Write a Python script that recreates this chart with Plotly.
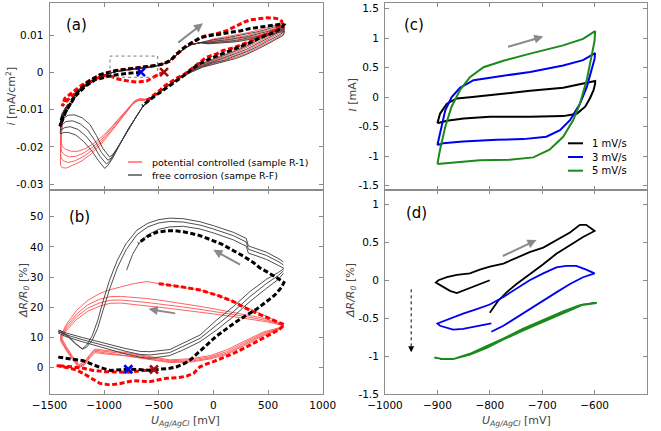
import plotly.graph_objects as go

# ================= DATA =================
# ---- panel (a): current density, values in 1e-3 mA/cm^2, potential in mV ----
A_ANOD_X = [-1300, -1250, -1200, -1100, -1000, -900, -800, -700, -600, -500, -440, -380, -320, -260, -200, -120]
A_ANOD_Y = [-7.2, -5.3, -4.0, -2.0, -0.7, 0.2, 0.7, 1.0, 1.4, 1.9, 2.5, 3.6, 5.2, 6.6, 7.5, 8.0]
A_UP_X = [-50, 0, 100, 200, 300, 400, 500, 600, 650]
A_LO_X = [640, 600, 500, 400, 300, 200, 100, 0, -100, -200, -300, -400, -500, -581]

A_RED_UP = [
    [8.5, 9.0, 9.5, 10.0, 10.6, 11.3, 12.1, 13.0, 13.0],
    [8.2, 8.6, 9.0, 9.4, 9.9, 10.6, 11.4, 12.3, 12.5],
    [8.0, 8.3, 8.5, 8.9, 9.4, 10.0, 10.8, 11.7, 11.9],
    [7.8, 7.9, 8.1, 8.4, 8.9, 9.5, 10.2, 11.1, 11.3],
]
A_BLK_UP = [
    [8.4, 8.8, 9.2, 9.7, 10.2, 10.9, 11.7, 12.6, 12.8],
    [8.1, 8.4, 8.7, 9.1, 9.6, 10.3, 11.1, 12.0, 12.2],
    [7.9, 8.1, 8.3, 8.6, 9.1, 9.7, 10.5, 11.4, 11.6],
    [7.7, 7.8, 7.9, 8.2, 8.7, 9.2, 9.9, 10.8, 11.0],
]
A_RED_LO = [
    [12.6, 12.0, 10.4, 8.9, 7.4, 6.0, 4.8, 3.7, 2.5, 0.9, -1.0, -3.1, -5.3, -6.8],
    [11.9, 11.2, 9.6, 8.1, 6.6, 5.3, 4.2, 3.2, 2.1, 0.6, -1.2, -3.2, -5.4, -6.9],
    [11.1, 10.4, 8.8, 7.3, 5.8, 4.6, 3.6, 2.8, 1.8, 0.4, -1.3, -3.2, -5.5, -7.0],
    [10.4, 9.6, 8.0, 6.5, 5.1, 4.0, 3.1, 2.4, 1.5, 0.2, -1.4, -3.3, -5.6, -7.1],
]
A_BLK_LO = [
    [12.3, 11.6, 10.0, 8.5, 7.0, 5.7, 4.5, 3.5, 2.3, 0.8, -1.1, -3.1, -5.4, -7.2],
    [11.5, 10.8, 9.2, 7.7, 6.2, 5.0, 3.9, 3.0, 1.9, 0.5, -1.2, -3.2, -5.5, -7.3],
    [10.8, 10.0, 8.4, 6.9, 5.5, 4.3, 3.3, 2.6, 1.6, 0.3, -1.3, -3.3, -5.5, -7.3],
    [10.0, 9.3, 7.7, 6.2, 4.8, 3.7, 2.9, 2.2, 1.4, 0.1, -1.4, -3.3, -5.6, -7.4],
]
A_RED_CATH_X = [
    [-626, -672, -720, -780, -850, -930, -1010, -1100, -1175, -1240, -1300, -1350, -1385, -1396, -1393, -1375, -1345],
    [-630, -678, -726, -786, -856, -936, -1016, -1106, -1185, -1255, -1315, -1362, -1390, -1397, -1394, -1377, -1347],
    [-634, -684, -732, -792, -862, -942, -1022, -1112, -1195, -1270, -1330, -1372, -1394, -1398, -1395, -1379, -1349],
    [-638, -690, -738, -798, -868, -948, -1028, -1118, -1205, -1285, -1345, -1382, -1398, -1400, -1397, -1381, -1351],
]
A_RED_CATH_Y = [
    [-7.2, -7.0, -7.6, -9.6, -12.0, -14.6, -17.0, -19.2, -20.5, -21.2, -21.2, -20.7, -19.8, -18.5, -15.5, -12.0, -9.2],
    [-7.3, -7.2, -7.9, -10.0, -12.5, -15.2, -17.8, -20.1, -21.6, -22.5, -22.7, -22.2, -21.3, -20.0, -16.5, -12.5, -9.4],
    [-7.4, -7.4, -8.2, -10.4, -13.0, -15.8, -18.5, -21.0, -22.7, -23.8, -24.2, -23.8, -23.0, -21.8, -17.5, -13.0, -9.6],
    [-7.5, -7.6, -8.5, -10.8, -13.5, -16.4, -19.3, -21.9, -23.8, -25.0, -25.7, -25.6, -25.0, -23.8, -18.5, -13.5, -9.8],
]
A_BLK_CATH_X = [
    [-640, -700, -760, -820, -880, -920, -950, -1010, -1070, -1130, -1200, -1270, -1330, -1380, -1400, -1390, -1360, -1330],
    [-645, -705, -770, -835, -895, -935, -965, -1025, -1085, -1150, -1220, -1290, -1350, -1400, -1392, -1360, -1330],
    [-648, -710, -780, -850, -910, -950, -980, -1040, -1100, -1170, -1240, -1310, -1360, -1400, -1394, -1365, -1330],
    [-652, -715, -790, -865, -925, -965, -995, -1055, -1115, -1190, -1260, -1330, -1375, -1402, -1396, -1368, -1330],
]
A_BLK_CATH_Y = [
    [-9.0, -11.6, -14.6, -17.6, -20.4, -22.0, -22.7, -20.5, -17.0, -14.0, -12.2, -11.4, -11.5, -12.5, -13.5, -11.2, -9.6, -8.4],
    [-9.1, -11.8, -14.8, -18.2, -21.3, -23.0, -23.6, -21.5, -18.3, -15.5, -13.8, -13.0, -13.2, -14.5, -12.0, -9.8, -8.5],
    [-9.2, -12.0, -15.3, -19.0, -22.2, -23.9, -24.6, -22.5, -19.5, -17.0, -15.3, -14.6, -14.8, -15.6, -12.8, -10.1, -8.6],
    [-9.4, -12.3, -15.8, -19.8, -23.2, -25.0, -25.8, -23.6, -21.0, -18.5, -16.8, -16.1, -16.2, -16.5, -13.5, -10.4, -8.7],
]
A_BLK_DASH_X = [-663, -779, -931, -1084, -1175, -1267, -1350, -1404, -1390, -1343, -1251, -1160, -1038, -885, -733, -600, -519, -450, -390, -336, -280, -245, -180, -123, -50, 30, 100, 182, 250, 335, 420, 487, 560, 624, 645, 620, 560, 487, 426, 334, 273, 182, 121, 30, -31, -123, -184, -245, -300, -367, -430, -489, -540, -580, -620, -650]
A_BLK_DASH_Y = [0.0, -0.2, -0.8, -2.0, -3.8, -6.5, -10.5, -14.5, -12.5, -10.2, -5.5, -2.8, -0.6, 0.5, 1.0, 1.5, 1.9, 2.4, 3.3, 5.0, 6.4, 7.2, 8.3, 9.3, 9.8, 10.2, 10.4, 10.8, 11.2, 11.8, 12.2, 12.4, 12.7, 13.0, 12.8, 11.8, 10.8, 10.0, 9.3, 8.0, 7.2, 6.2, 5.5, 4.5, 3.7, 2.4, 1.2, -0.3, -1.5, -2.9, -4.3, -5.4, -6.4, -7.2, -8.2, -9.0]
A_RED_DASH_X = [-452, -519, -611, -700, -764, -885, -946, -1010, -1084, -1175, -1267, -1330, -1385, -1360, -1300, -1200, -1100, -1000, -900, -800, -700, -600, -519, -460, -400, -340, -280, -213, -150, -93, -30, 30, 120, 213, 280, 334, 410, 487, 560, 593, 625, 630, 600, 540, 487, 426, 334, 250, 182, 90, 30, -62, -120, -184, -230, -276, -340, -398, -440, -489, -540, -581, -620]
A_RED_DASH_Y = [0.1, -0.8, -2.3, -2.6, -2.4, -1.7, -0.9, -0.9, -1.8, -3.5, -5.7, -7.3, -9.0, -7.0, -5.6, -3.3, -1.6, -0.3, 0.5, 0.9, 1.2, 1.5, 1.9, 2.3, 3.0, 4.6, 6.4, 7.7, 8.8, 9.7, 10.1, 10.4, 11.2, 12.6, 13.5, 14.1, 14.5, 14.7, 14.6, 14.4, 13.8, 13.0, 12.3, 11.0, 10.3, 9.6, 8.3, 7.3, 6.6, 5.9, 5.0, 4.1, 2.8, 1.4, 0.3, -0.7, -1.6, -2.6, -3.5, -4.8, -6.0, -7.0, -7.8]
A_MARK_BLUE = [-663, 0.1]
A_MARK_RED = [-452, 0.1]
A_BOX = [-946, -510, -1.3, 4.4]
A_ARROW = [-336, 7.7, -96, 13.2]
A_LEGEND = ["potential controlled (sample R-1)", "free corrosion (sampe R-F)"]

# ---- panel (b): resistance change in % ----
B_RUP_X = [-1400, -1343, -1251, -1150, -1038, -946, -850, -733, -611, -500, -400, -300, -123, 0, 182, 300, 426, 487, 550, 609, 640]
B_RUP = [
    [10.5, 14.5, 19.0, 22.3, 24.6, 25.8, 26.7, 27.8, 28.5, 27.9, 27.3, 26.8, 25.7, 24.4, 21.9, 20.0, 17.9, 16.9, 15.9, 14.6, 14.0],
    [10.0, 13.8, 17.8, 20.8, 22.7, 23.5, 23.6, 23.3, 22.9, 22.4, 21.9, 21.3, 20.3, 19.5, 18.3, 17.5, 16.6, 16.0, 15.3, 14.5, 14.1],
    [9.5, 13.1, 16.9, 19.7, 21.5, 22.3, 22.4, 22.1, 21.6, 21.1, 20.7, 20.2, 19.3, 18.7, 17.6, 16.9, 16.1, 15.6, 15.0, 14.3, 14.0],
    [9.0, 12.4, 16.0, 18.7, 20.4, 21.3, 21.4, 21.0, 20.4, 20.0, 19.6, 19.2, 18.4, 17.8, 16.9, 16.3, 15.6, 15.2, 14.7, 14.1, 13.9],
]
B_RLO_X = [600, 456, 273, 121, -31, -200, -400, -600, -800, -1000, -1084, -1130, -1180, -1230, -1290, -1350, -1400]
B_RLO = [
    [13.2, 11.8, 8.6, 5.9, 4.0, 3.0, 2.6, 3.8, 5.0, 5.8, 6.2, 4.4, 2.0, 1.0, 3.8, 7.2, 10.5],
    [13.0, 11.4, 8.1, 5.3, 3.6, 2.6, 2.3, 3.4, 4.6, 5.4, 5.8, 4.0, 1.6, 0.6, 3.4, 6.7, 10.0],
    [12.8, 11.0, 7.6, 4.8, 3.2, 2.2, 2.0, 3.0, 4.2, 5.0, 5.4, 3.6, 1.2, 0.3, 3.0, 6.3, 9.5],
    [12.6, 10.6, 7.2, 4.4, 2.9, 1.9, 1.7, 2.7, 3.9, 4.6, 5.0, 3.3, 0.9, 0.0, 2.7, 5.9, 9.0],
]
B_KTOP_X = [640, 600, 487, 380, 320, 300, 182, 0, -123, -276, -400, -500, -600, -700, -800, -880, -950, -1010, -1060, -1110, -1160, -1200, -1260, -1330, -1400, -1420]
B_KTOP = [
    [35.0, 36.0, 38.2, 39.6, 40.3, 42.8, 44.8, 47.0, 48.3, 49.3, 49.5, 49.0, 47.8, 45.5, 41.0, 35.5, 29.0, 22.0, 15.5, 10.5, 7.5, 6.3, 7.8, 10.2, 11.8, 11.5],
    [34.0, 35.0, 37.1, 38.5, 39.2, 41.6, 43.7, 45.9, 47.2, 48.2, 48.4, 47.9, 46.6, 44.0, 39.0, 33.0, 26.0, 19.0, 13.0, 9.0, 6.8, 6.1, 8.0, 10.6, 12.2, 12.0],
]
B_KLO_X = [-1420, -1350, -1200, -1000, -800, -672, -581, -400, -276, -123, 30, 182, 334, 487, 593, 640]
B_KLO = [
    [11.5, 10.3, 8.6, 6.5, 4.5, 3.5, 3.1, 4.0, 5.9, 8.6, 12.5, 16.9, 21.9, 26.3, 29.2, 31.2],
    [12.0, 10.9, 9.3, 7.3, 5.4, 4.4, 4.2, 5.0, 7.0, 9.7, 14.1, 18.5, 23.5, 27.9, 30.5, 32.0],
    [12.5, 11.5, 10.0, 8.1, 6.3, 5.4, 5.3, 6.0, 8.1, 10.8, 15.8, 20.2, 25.2, 29.3, 31.5, 32.6],
]
B_KLAST_X = [640, 600, 487, 380, 320, 300, 182, 0, -123, -276, -400, -500, -600, -680, -740, -794]
B_KLAST_Y = [33.0, 33.8, 35.8, 37.2, 37.9, 40.2, 42.3, 44.6, 45.9, 46.8, 46.6, 45.8, 44.0, 41.2, 37.5, 32.3]
B_BLK_DASH_X = [-1420, -1300, -1190, -1100, -1038, -946, -850, -779, -680, -580, -489, -400, -336, -260, -214, -150, -62, 30, 121, 200, 304, 400, 487, 560, 624, 645, 600, 550, 487, 426, 365, 280, 182, 80, -1, -123, -200, -276, -350, -428, -519, -600, -688]
B_BLK_DASH_Y = [3.5, 2.8, 2.3, 1.0, 0.1, -0.9, -0.7, -0.5, -0.6, -0.9, -0.5, -0.2, 0.3, 1.5, 2.5, 4.5, 7.5, 10.5, 13.0, 15.0, 17.4, 19.5, 21.9, 24.0, 26.6, 28.2, 29.3, 30.5, 31.8, 33.0, 34.8, 36.8, 38.8, 40.8, 42.0, 43.7, 44.4, 45.0, 45.3, 45.3, 44.8, 43.5, 41.2]
B_RED_DASH_X = [-544, -650, -780, -900, -1000, -1100, -1190, -1300, -1434, -1330, -1250, -1190, -1100, -1038, -946, -850, -733, -650, -580, -500, -428, -330, -245, -180, -123, -60, -1, 100, 182, 300, 426, 530, 600, 650, 609, 520, 426, 300, 182, 50, -123, -300, -519]
B_RED_DASH_Y = [-0.6, -1.0, -1.5, -1.4, -1.3, -0.9, -0.2, 0.3, 0.7, 0.0, -0.8, -1.9, -3.8, -5.2, -5.7, -5.2, -4.3, -4.4, -4.6, -4.0, -3.5, -3.3, -2.8, -1.8, 0.3, 1.3, 2.0, 3.5, 4.7, 6.8, 9.2, 11.3, 12.6, 14.2, 14.8, 16.2, 17.6, 19.6, 21.9, 23.8, 25.7, 26.8, 27.9]
B_MARK_BLUE = [-779, -0.5]
B_MARK_RED = [-544, -0.6]
B_ARROW1 = [258, 33.8, -1, 39.0]
B_ARROW2 = [-336, 17.9, -592, 19.4]

# ---- panel (c): current in mA ----
C1_X = [-900, -895, -882, -863, -838, -787, -723, -660, -628, -609, -599, -599, -602, -609, -618, -634, -660, -723, -800, -850, -882, -900]
C1_Y = [-0.44, -0.28, -0.11, -0.02, 0.0, 0.05, 0.11, 0.16, 0.22, 0.26, 0.275, 0.23, 0.12, -0.02, -0.16, -0.28, -0.32, -0.33, -0.33, -0.36, -0.40, -0.44]
C3_X = [-900, -895, -885, -873, -857, -831, -787, -723, -660, -622, -599, -600, -606, -615, -628, -647, -666, -692, -736, -787, -851, -889, -900]
C3_Y = [-0.81, -0.61, -0.22, 0.0, 0.16, 0.29, 0.35, 0.43, 0.54, 0.63, 0.75, 0.65, 0.46, 0.17, -0.11, -0.39, -0.56, -0.67, -0.71, -0.72, -0.75, -0.78, -0.81]
C5_X = [-900, -895, -885, -873, -857, -838, -812, -774, -723, -660, -622, -599, -600, -606, -615, -628, -641, -660, -686, -717, -762, -819, -863, -900]
C5_Y = [-1.13, -0.89, -0.50, -0.16, 0.12, 0.34, 0.51, 0.62, 0.74, 0.88, 0.99, 1.12, 0.96, 0.68, 0.29, -0.11, -0.39, -0.67, -0.89, -1.02, -1.06, -1.07, -1.10, -1.13]
C_NAMES = ["1 mV/s", "3 mV/s", "5 mV/s"]
C_ARROW = [-768, 0.85, -698, 1.03]

# ---- panel (d): resistance change in % ----
D1_X = [-800, -825, -851, -863, -876, -895, -903, -898, -882, -863, -838, -819, -800, -774, -749, -724, -698, -673, -647, -628, -616, -600, -622, -647, -673, -698, -724, -749, -768, -784, -800]
D1_Y = [0.0, -0.07, -0.14, -0.17, -0.14, -0.07, -0.03, 0.0, 0.04, 0.07, 0.09, 0.14, 0.18, 0.22, 0.30, 0.37, 0.43, 0.53, 0.63, 0.73, 0.73, 0.65, 0.57, 0.46, 0.35, 0.21, 0.08, -0.05, -0.16, -0.27, -0.43]
D3_X = [-797, -819, -851, -870, -895, -900, -882, -851, -825, -800, -774, -749, -724, -698, -673, -654, -635, -616, -600, -622, -647, -673, -698, -724, -749, -774, -797]
D3_Y = [-0.57, -0.60, -0.64, -0.65, -0.60, -0.57, -0.52, -0.44, -0.38, -0.32, -0.22, -0.11, 0.0, 0.09, 0.17, 0.19, 0.19, 0.14, 0.09, 0.04, -0.05, -0.16, -0.27, -0.38, -0.49, -0.60, -0.68]
D5_X = [-906, -889, -870, -838, -806, -774, -736, -698, -660, -628, -603, -596, -622, -660, -698, -736, -774, -806, -838, -870, -895]
D5_Y = [-1.02, -1.04, -1.04, -0.97, -0.87, -0.77, -0.64, -0.52, -0.41, -0.33, -0.30, -0.30, -0.32, -0.43, -0.54, -0.66, -0.78, -0.89, -0.98, -1.04, -1.04]
D_ARROW = [-778, 0.31, -711, 0.53]
D_DOWN = [-950, -0.12, -0.95]

# ================= STYLE / LAYOUT =================
W, H = 661, 431
RED_THIN = "#ff5050"
BLK_THIN = "#3a3a3a"
RED = "#ff0000"
BLUE = "#0000f0"
GREEN = "#1a8a1a"
FRAME = "#8c8c8c"
FONT = "DejaVu Sans"

fig = go.Figure()


def add(x, y, xa, ya, color, width, dash=None, scale=1.0):
    fig.add_trace(go.Scatter(
        x=x, y=[v * scale for v in y], xaxis=xa, yaxis=ya, mode="lines",
        line=dict(color=color, width=width, dash=dash),
        showlegend=False, hoverinfo="skip"))


def mark(p, xa, ya, color, scale=1.0):
    fig.add_trace(go.Scatter(
        x=[p[0]], y=[p[1] * scale], xaxis=xa, yaxis=ya, mode="markers", showlegend=False,
        marker=dict(symbol="x-thin", size=8, line=dict(width=2.6, color=color)), hoverinfo="skip"))


S = 1e-3
DASH = "5px,2.5px"
# panel (a)
for k in range(4):
    add(A_ANOD_X + A_UP_X + A_LO_X + A_RED_CATH_X[k],
        A_ANOD_Y + A_RED_UP[k] + A_RED_LO[k] + A_RED_CATH_Y[k], "x", "y", RED_THIN, 0.9, scale=S)
for k in range(4):
    add(A_ANOD_X + A_UP_X + A_LO_X + A_BLK_CATH_X[k],
        A_ANOD_Y + A_BLK_UP[k] + A_BLK_LO[k] + A_BLK_CATH_Y[k], "x", "y", BLK_THIN, 0.9, scale=S)
add(A_RED_DASH_X, A_RED_DASH_Y, "x", "y", RED, 3, DASH, scale=S)
add(A_BLK_DASH_X, A_BLK_DASH_Y, "x", "y", "#000000", 3, DASH, scale=S)
mark(A_MARK_BLUE, "x", "y", BLUE, S)
mark(A_MARK_RED, "x", "y", "#a01010", S)

# panel (b)
for k in range(4):
    add(B_RUP_X + B_RLO_X, B_RUP[k] + B_RLO[k], "x2", "y2", RED_THIN, 0.9)
for k in range(2):
    add(B_KTOP_X + B_KLO_X, B_KTOP[k] + B_KLO[k], "x2", "y2", BLK_THIN, 0.9)
add(B_KLO_X + B_KLAST_X, B_KLO[2] + B_KLAST_Y, "x2", "y2", BLK_THIN, 0.9)
add(B_RED_DASH_X, B_RED_DASH_Y, "x2", "y2", RED, 3, DASH)
add(B_BLK_DASH_X, B_BLK_DASH_Y, "x2", "y2", "#000000", 3, DASH)
mark(B_MARK_BLUE, "x2", "y2", BLUE)
mark(B_MARK_RED, "x2", "y2", "#a01010")

# panel (c)
C_COLORS = ["#000000", BLUE, GREEN]
for xs, ys, col in zip([C1_X, C3_X, C5_X], [C1_Y, C3_Y, C5_Y], C_COLORS):
    add(xs, ys, "x3", "y3", col, 2)

# panel (d)
add(D1_X, D1_Y, "x4", "y4", "#000000", 1.8)
add(D3_X, D3_Y, "x4", "y4", BLUE, 1.8)
add(D5_X, D5_Y, "x4", "y4", GREEN, 2)

XD_L = [49.5 / W, 322.7 / W]
XD_R = [385 / W, 647 / W]
YD_T = [1 - 190 / H, 1 - 2.5 / H]
YD_B = [1 - 394 / H, 1 - 190 / H]

axcommon = dict(showgrid=False, zeroline=False, showline=True, linecolor=FRAME, linewidth=1,
                mirror="ticks", ticks="inside", ticklen=4, tickcolor=FRAME, tickwidth=1,
                automargin=False,
                tickfont=dict(family=FONT, size=10.5, color="#000000"), fixedrange=True)

fig.update_layout(
    width=W, height=H, margin=dict(l=0, r=0, t=0, b=0, autoexpand=False),
    paper_bgcolor="white", plot_bgcolor="white", showlegend=False,
    xaxis=dict(axcommon, domain=XD_L, range=[-1500, 1000], anchor="y",
               tickvals=[-1500, -1000, -500, 0, 500, 1000], showticklabels=False),
    yaxis=dict(axcommon, domain=YD_T, range=[-0.0316, 0.0188], anchor="x",
               tickvals=[-0.03, -0.02, -0.01, 0, 0.01], ticktext=["-0.03", "-0.02", "-0.01", "0", "0.01"],
               ticklabelstandoff=3),
    xaxis2=dict(axcommon, domain=XD_L, range=[-1500, 1000], anchor="y2",
                tickvals=[-1500, -1000, -500, 0, 500, 1000], ticklabelstandoff=1),
    yaxis2=dict(axcommon, domain=YD_B, range=[-8.7, 58.8], anchor="x2",
                tickvals=[0, 10, 20, 30, 40, 50], ticklabelstandoff=3),
    xaxis3=dict(axcommon, domain=XD_R, range=[-1000, -500], anchor="y3",
                tickvals=[-1000, -900, -800, -700, -600, -500], showticklabels=False),
    yaxis3=dict(axcommon, domain=YD_T, range=[-1.573, 1.607], anchor="x3",
                tickvals=[-1.5, -1, -0.5, 0, 0.5, 1, 1.5],
                ticktext=["-1.5", "-1", "-0.5", "0", "0.5", "1", "1.5"], ticklabelstandoff=3),
    xaxis4=dict(axcommon, domain=XD_R, range=[-1000, -500], anchor="y4",
                tickvals=[-1000, -900, -800, -700, -600, -500], ticklabelstandoff=1),
    yaxis4=dict(axcommon, domain=YD_B, range=[-1.5, 1.19], anchor="x4",
                tickvals=[-1.5, -1, -0.5, 0, 0.5, 1],
                ticktext=["-1.5", "-1", "-0.5", "0", "0.5", "1"], ticklabelstandoff=3),
)


def paper_text(txt, px, py, size, color, angle=0, xanchor="center"):
    fig.add_annotation(text=txt, x=px / W, y=1 - py / H, xref="paper", yref="paper",
                       xanchor=xanchor, yanchor="middle", showarrow=False, textangle=angle,
                       font=dict(family=FONT, size=size, color=color))


# legend keys (compact, as in the reference)
LEG_A = [(A_LEGEND[0], RED_THIN), (A_LEGEND[1], BLK_THIN)]
for i, (txt, col) in enumerate(LEG_A):
    py = 162 + 13 * i
    fig.add_shape(type="line", xref="paper", yref="paper", x0=128 / W, x1=142 / W,
                  y0=1 - py / H, y1=1 - py / H, line=dict(color=col, width=1.3))
    paper_text(txt, 150, py, 9.5, "#000000", xanchor="left")
for i, (txt, col) in enumerate(zip(C_NAMES, C_COLORS)):
    py = 143.3 + 13.7 * i
    fig.add_shape(type="line", xref="paper", yref="paper", x0=568 / W, x1=583 / W,
                  y0=1 - py / H, y1=1 - py / H, line=dict(color=col, width=2))
    paper_text(txt, 590, py, 10, "#000000", xanchor="left")

# box, arrows
fig.add_shape(type="rect", xref="x", yref="y", x0=A_BOX[0], x1=A_BOX[1], y0=A_BOX[2] * S, y1=A_BOX[3] * S,
              line=dict(color="#777777", width=1, dash="dot"))
fig.add_shape(type="line", xref="x4", yref="y4", x0=D_DOWN[0], x1=D_DOWN[0], y0=D_DOWN[1], y1=D_DOWN[2] + 0.03,
              line=dict(color="#000000", width=1, dash="dot"))

ARROW_COL = "#8a8a8a"


def arrow(a, xr, yr, scale=1.0):
    fig.add_annotation(x=a[2], y=a[3] * scale, ax=a[0], ay=a[1] * scale, xref=xr, yref=yr,
                       axref=xr, ayref=yr, showarrow=True, arrowhead=2, arrowsize=0.9,
                       arrowwidth=2, arrowcolor=ARROW_COL, text="")


arrow(A_ARROW, "x", "y", S)
arrow(B_ARROW1, "x2", "y2")
arrow(B_ARROW2, "x2", "y2")
arrow(C_ARROW, "x3", "y3")
arrow(D_ARROW, "x4", "y4")
fig.add_annotation(x=D_DOWN[0], y=D_DOWN[2], ax=D_DOWN[0], ay=D_DOWN[2] + 0.06, xref="x4", yref="y4",
                   axref="x4", ayref="y4", showarrow=True, arrowhead=2, arrowsize=1.2,
                   arrowwidth=1, arrowcolor="#000000", text="")

# panel labels
for txt, px, py in [("(a)", 76, 25), ("(b)", 79, 217), ("(c)", 414, 25), ("(d)", 417, 213)]:
    paper_text(txt, px, py, 15, "#000000")

TCOL = "#444444"
titles = [
    ("<i>i</i> [mA/cm<sup>2</sup>]", 10.5, 96, -90),
    ("<i>ΔR/R<sub>0</sub></i> [%]", 24, 291, -90),
    ("<span style='font-family:Liberation Serif'><i>I</i></span> [mA]", 352, 96, -90),
    ("<i>ΔR/R<sub>0</sub></i> [%]", 351, 291, -90),
    ("<i>U<sub>Ag/AgCl</sub></i> [mV]", 186, 421, 0),
    ("<i>U<sub>Ag/AgCl</sub></i> [mV]", 516, 421, 0),
]
for txt, px, py, ang in titles:
    paper_text(txt, px, py, 11, TCOL, angle=ang)

fig.write_html("out.html")
